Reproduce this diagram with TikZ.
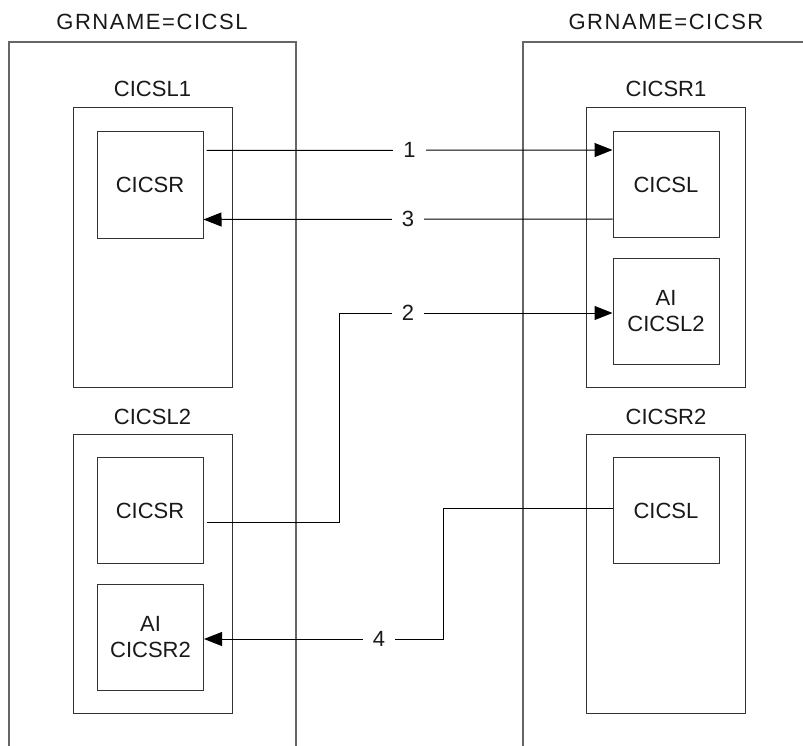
\documentclass[tikz,border=0pt]{standalone}
\usepackage{fontspec}
\setmainfont{Liberation Sans}
\newfontfamily\spacedfont[LetterSpace=7]{Liberation Sans}
\usetikzlibrary{arrows.meta}
\begin{document}
\begin{tikzpicture}[x=1pt,y=-1pt,
  every node/.style={font=\fontsize{22}{25.7}\selectfont, text=black!90},
  grp/.style={draw=black!60, line width=1.3pt},
  region/.style={draw=black!80, line width=1pt, rectangle, minimum width=159pt, minimum height=279pt, inner sep=0pt},
  app/.style={draw=black!80, line width=1pt, rectangle, minimum width=106pt, minimum height=106pt, inner sep=0pt, align=center},
  ttl/.style={anchor=base, inner sep=0pt},
  gttl/.style={anchor=base, inner sep=0pt, font=\spacedfont\fontsize{22}{25.7}\selectfont},
  lbl/.style={fill=white, inner xsep=10pt, inner ysep=2pt},
  arr/.style={draw=black, line width=1pt, -{Triangle[length=18pt,width=14pt]}},
  link/.style={draw=black, line width=1pt}]
\useasboundingbox (0,0) rectangle (803,746);
\fill[white] (0,0) rectangle (803,746);
% groups
\coordinate (gla) at (9,746);
\coordinate (glb) at (9,42);
\coordinate (glc) at (296,42);
\coordinate (gld) at (296,746);
\draw[grp] (gla) -- (glb) -- (glc) -- (gld);
\coordinate (gra) at (523,746);
\coordinate (grb) at (523,42);
\coordinate (grc) at (803,42);
\draw[grp] (gra) -- (grb) -- (grc);
\node[gttl] (glt) at (152,29.3) {GRNAME=CICSL};
\node[gttl] (grt) at (666,29.3) {GRNAME=CICSR};
% left regions
\node[region] (l1) at (152.5,247.5) {};
\node[ttl] (l1t) at (152.5,96.7) {CICSL1};
\node[app] (l1r) at (150,185) {CICSR};
\node[region] (l2) at (152.5,573.5) {};
\node[ttl] (l2t) at (152.5,424) {CICSL2};
\node[app] (l2r) at (150,510.5) {CICSR};
\node[app] (l2ai) at (150.5,637) {AI\\CICSR2};
% right regions
\node[region] (r1) at (666,247.5) {};
\node[ttl] (r1t) at (666,96.7) {CICSR1};
\node[app] (r1l) at (666,184.5) {CICSL};
\node[app] (r1ai) at (666,311) {AI\\CICSL2};
\node[region] (r2) at (666,573.5) {};
\node[ttl] (r2t) at (666,424) {CICSR2};
\node[app] (r2l) at (666,510.5) {CICSL};
% connectors
\draw[arr] ([yshift=-19pt,xshift=3pt]l1r.north east) -- node[lbl]{1} ([yshift=-19pt]r1l.north west);
\draw[arr] ([yshift=19pt]r1l.south west) -- node[lbl]{3} ([yshift=19pt]l1r.south east);
\coordinate (k2) at (339,313);
\draw[arr] ([yshift=-11.5pt,xshift=3pt]l2r.east) -| (k2) -- node[lbl,pos=0.252]{2} (r1ai.west |- k2);
\coordinate (k4) at (443,639);
\draw[arr] ([yshift=2.5pt]r2l.west) -| (k4) -- node[lbl,pos=0.268]{4} (l2ai.east |- k4);
\end{tikzpicture}
\end{document}
